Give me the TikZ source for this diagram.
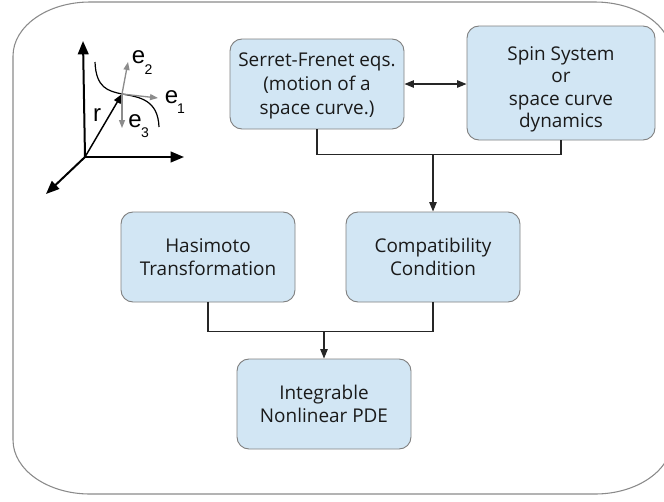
\documentclass[tikz,border=0pt]{standalone}
\usepackage{fontspec}
\setmainfont{Open Sans}
\newfontfamily\arialfont{Liberation Sans}
\usetikzlibrary{arrows.meta,calc}
\definecolor{boxfill}{HTML}{D2E6F4}
\definecolor{boxline}{HTML}{808080}
\definecolor{framegray}{HTML}{8A8A8A}
\definecolor{vecgray}{HTML}{8C8C8C}
\definecolor{txt}{HTML}{1A1A1A}
\tikzset{
  stepbox/.style={draw=boxline, line width=0.7pt, fill=boxfill, rounded corners=9pt,
    minimum width=130.5pt, minimum height=67.5pt, align=center, text=txt,
    font=\fontsize{14.2}{16.9}\selectfont, inner sep=0pt, text depth=0pt},
  conn/.style={draw=black!85, line width=0.9pt},
  arr/.style={conn, -{Triangle[length=7pt,width=5.5pt]}},
  darr/.style={conn, {Triangle[length=7pt,width=5.5pt]}-{Triangle[length=7pt,width=5.5pt]}},
  axis/.style={draw=black, line width=1.5pt, -{Triangle[length=10pt,width=8pt]}},
  gvec/.style={draw=vecgray, line width=1pt, -{Triangle[length=6pt,width=4.5pt]}},
  elab/.style={font=\arialfont\fontsize{18}{18}\selectfont, inner sep=0pt, anchor=center},
  slab/.style={font=\arialfont\fontsize{10.5}{10.5}\selectfont, inner sep=0pt, anchor=center}
}
\begin{document}
\begin{tikzpicture}[x=0.75pt,y=-0.75pt]
\useasboundingbox (0,0) rectangle (664,501);
% outer frame
\draw[framegray, line width=0.8pt]
  (90,2) -- (595,2) .. controls (637.5,2) and (672,26.2) .. (672,56)
  -- (672,440) .. controls (672,469.8) and (637.5,494) .. (595,494)
  -- (90,494) .. controls (47.5,494) and (13,469.8) .. (13,440)
  -- (13,56) .. controls (13,26.2) and (47.5,2) .. (90,2) -- cycle;

% left sketch
\coordinate (O) at (85,157);
\coordinate (P) at (122,94);
\coordinate (ax1) at (83,41);
\coordinate (ax2) at (184,157);
\coordinate (ax3) at (46,194);
\draw[axis] (O) -- (ax1);
\draw[axis] (O) -- (ax2);
\draw[axis] (O) -- (ax3);
\draw[black, line width=0.9pt] (95,62) .. controls (96,88) and (108,91) .. (P)
   .. controls (140,97) and (158,100) .. (159,127);
\draw[draw=black, line width=1.1pt, -{Triangle[length=7pt,width=5.5pt]}] (O) -- (P);
\coordinate (t2) at (128,62);
\coordinate (t1) at (158,98);
\coordinate (t3) at (122,128);
\draw[gvec] (P) -- (t2);
\draw[gvec] (P) -- (t1);
\draw[gvec] (P) -- (t3);
\node[elab] (r) at (97,115) {r};
\node[elab] (e2) at (138.5,57) {e};
\node[slab] (s2) at (148.5,69.5) {2};
\node[elab] (e1) at (171.5,97) {e};
\node[slab] (s1) at (181,109) {1};
\node[elab] (e3) at (135,121.5) {e};
\node[slab] (s3) at (145,132.5) {3};

% boxes
\node[stepbox, font=\fontsize{14.2}{18}\selectfont] (sf) at (317,84) {Serret-Frenet eqs.\\(motion of a\\space curve.)};
\node[stepbox, minimum width=141pt, minimum height=85.5pt, text height=67pt] (spin) at (561,83) {Spin System\\or\\space curve\\dynamics};
\node[stepbox] (has) at (208,257) {Hasimoto\\Transformation};
\node[stepbox] (comp) at (433,257) {Compatibility\\Condition};
\node[stepbox] (pde) at (324,404) {Integrable\\Nonlinear PDE};

% connectors
\draw[darr] (sf.east) -- (sf.east -| spin.west);
\draw[conn] (sf.south) -- ++(0,25) coordinate (j0) -| (spin.south);
\coordinate (j1) at (comp.north |- j0);
\draw[arr] (j1) -- (comp.north);
\draw[conn] (has.south) -- ++(0,29) coordinate (k0) -| (comp.south);
\coordinate (j2) at (pde.north |- k0);
\draw[arr] (j2) -- (pde.north);
\end{tikzpicture}
\end{document}
